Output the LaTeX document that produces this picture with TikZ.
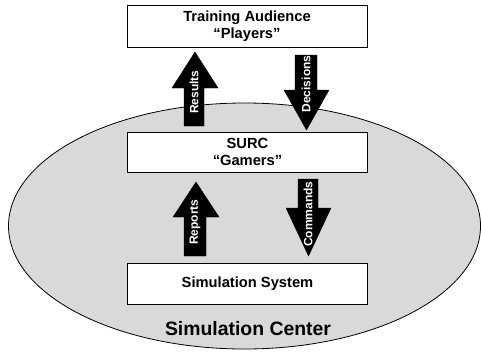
\documentclass[tikz,border=0pt]{standalone}
\usepackage{fontspec}
\setmainfont{Liberation Sans}
\usetikzlibrary{calc,shapes.geometric}
\tikzset{
  box/.style={draw=black, line width=0.8pt, fill=white, minimum width=240pt, inner sep=0pt, align=center, font=\fontsize{14.7}{17.5}\selectfont\bfseries},
  fatarrow/.style={fill=black, draw=black, line width=0.4pt, line join=miter},
  arrlabel/.style={text=white, rotate=90, inner sep=0pt, font=\fontsize{12}{13}\selectfont\bfseries}
}
\begin{document}
\begin{tikzpicture}[x=1pt,y=-1pt]
\useasboundingbox (0,0) rectangle (481,351);
% Simulation center ellipse
\node[draw=black, line width=0.8pt, fill=black!15, ellipse, minimum width=472pt, minimum height=246pt, inner sep=0pt] (center) at (244.5,226) {};
\node[font=\fontsize{19.4}{21}\selectfont\bfseries, inner sep=0pt] (centerlabel) at (248,329) {Simulation Center};
% boxes
\node[box, minimum height=42pt] (players) at (247,26) {Training Audience\\``Players''};
\node[box, minimum height=40pt] (surc) at (247.5,152) {SURC\\``Gamers''};
\node[box, minimum height=41pt] (sim) at (247.5,283.5) {Simulation System};
% Results (up)
\draw[fatarrow] (184,126) -- (184,88) -- (172,88) -- (195,52) -- (218,88) -- (204,88) -- (204,126) -- cycle;
\node[arrlabel] (lres) at (194,92) {Results};
% Decisions (down)
\draw[fatarrow] (295,55) -- (295,90) -- (284,90) -- (306.5,130) -- (329,90) -- (317,90) -- (317,55) -- cycle;
\node[arrlabel] (ldec) at (306,84) {Decisions};
% Reports (up)
\draw[fatarrow] (184,256) -- (184,217) -- (173,217) -- (196,182) -- (219,217) -- (206,217) -- (206,256) -- cycle;
\node[arrlabel] (lrep) at (195,222) {Reports};
% Commands (down)
\draw[fatarrow] (298,179) -- (298,208) -- (286,208) -- (308.5,256) -- (331,208) -- (318,208) -- (318,179) -- cycle;
\node[arrlabel] (lcom) at (308,214) {Commands};
\end{tikzpicture}
\end{document}
